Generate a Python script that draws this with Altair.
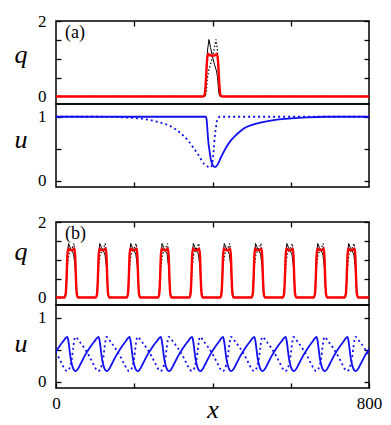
import altair as alt
import pandas as pd

# ---------------- panel (a) : single pulse ----------------
a_q_red_x = [0, 376, 380, 383, 386, 389, 392, 400, 408, 411, 414, 417, 420, 424, 800]
a_q_red_y = [0, 0, 0.05, 0.4, 0.95, 1.13, 1.1, 1.08, 1.1, 1.13, 0.95, 0.4, 0.05, 0, 0]
a_q_solid_x = [0, 381, 384, 387, 391, 395, 400, 405, 410, 413, 416, 419, 800]
a_q_solid_y = [0, 0, 0.5, 1.2, 1.51, 1.3, 1.05, 0.85, 0.68, 0.5, 0.1, 0, 0]
a_q_dot_x = [0, 381, 384, 387, 390, 395, 400, 405, 409, 413, 416, 419, 800]
a_q_dot_y = [0, 0, 0.1, 0.5, 0.68, 0.85, 1.05, 1.3, 1.51, 1.2, 0.5, 0, 0]

a_u_solid_x = [0, 383, 385, 387, 389, 392, 396, 400, 406, 412, 422, 433, 447, 463,
               481, 505, 532, 565, 601, 640, 690, 800]
a_u_solid_y = [1, 1, 0.95, 0.8, 0.63, 0.48, 0.32, 0.25, 0.21, 0.24, 0.37, 0.5, 0.63, 0.73,
               0.82, 0.88, 0.92, 0.955, 0.975, 0.99, 1, 1]
a_u_dot_x = [0, 110, 175, 217, 260, 302, 337, 362, 379, 388, 396, 399, 403, 406, 409, 413, 419, 800]
a_u_dot_y = [1, 1, 0.99, 0.97, 0.92, 0.82, 0.63, 0.42, 0.26, 0.22, 0.21, 0.25, 0.47, 0.7,
             0.84, 0.97, 1, 1]

# ---------------- panel (b) : pulse train ----------------
pulse_centers = [39, 119, 198, 278, 358, 437, 517, 597, 676, 755]
u_centers = [-41, 39, 119, 198, 278, 358, 437, 517, 597, 676, 755, 835]

b_q_red_off = [-17, -14, -12, -10, -8, -4, 0, 4, 8, 10, 12, 14, 17]
b_q_red_val = [0, 0.1, 0.5, 1.1, 1.3, 1.26, 1.25, 1.26, 1.3, 1.1, 0.5, 0.1, 0]
b_q_solid_off = [-16, -13, -10, -7, -3, 1, 6, 10, 13, 16]
b_q_solid_val = [0, 0.3, 1.1, 1.43, 1.33, 1.25, 1.15, 0.8, 0.2, 0]
b_q_dot_off = [-16, -13, -10, -6, -1, 3, 7, 10, 13, 16]
b_q_dot_val = [0, 0.2, 0.8, 1.15, 1.25, 1.33, 1.43, 1.1, 0.3, 0]

b_u_solid_off = [-10, -8, -5, -2, 2, 6, 11, 16, 24, 34, 46, 58]
b_u_solid_val = [0.70, 0.66, 0.53, 0.38, 0.26, 0.19, 0.165, 0.19, 0.28, 0.40, 0.52, 0.62]
b_u_dot_off = [-58, -46, -34, -24, -16, -11, -6, -2, 2, 5, 8, 10]
b_u_dot_val = [0.62, 0.52, 0.40, 0.28, 0.19, 0.165, 0.19, 0.26, 0.38, 0.53, 0.66, 0.70]

x_ticks = [200, 400, 600]
x_labels_shown = [0, 800]
q_ticks = [0, 0.5, 1, 1.5, 2]
q_labels_shown = [0, 2]
u_ticks = [0, 0.5, 1]
u_labels_shown = [0, 1]


def train(centers, offs, vals, edges=True):
    xs, ys = ([0], [0]) if edges else ([], [])
    for c in centers:
        for o, v in zip(offs, vals):
            xs.append(c + o)
            ys.append(v)
    if edges:
        xs.append(800)
        ys.append(0)
    return xs, ys


W, H = 313, 83
FONT = "Liberation Serif"
BLUE = "#1010f0"
XS = alt.Scale(domain=[0, 800], nice=False, zero=False)
QS = alt.Scale(domain=[-0.2, 2], nice=False, zero=False)
US = alt.Scale(domain=[-0.1, 1.2], nice=False, zero=False)
TICK = dict(tickSize=5, tickWidth=1.3, tickColor="black", domain=False, grid=False, offset=-5)


def shown_expr(shown):
    cond = " || ".join(f"datum.value == {v}" for v in shown)
    return f"({cond}) ? format(datum.value, 'd') : ''"


def left_axis(values, shown, title, title_y):
    return alt.Axis(orient="left", values=values, labelExpr=shown_expr(shown),
                    labelFont=FONT, labelFontSize=17, labelColor="black", labelPadding=10,
                    labelOverlap=False, title=title, titleFont=FONT, titleFontStyle="italic",
                    titleFontWeight="normal", titleFontSize=26, titleAngle=0,
                    titleAlign="center", titleBaseline="alphabetic", titleX=-40.5,
                    titleY=title_y, titleColor="black", **TICK)


def right_axis(values):
    return alt.Axis(orient="right", values=values, labels=False, title="", **TICK)


def top_axis():
    return alt.Axis(orient="top", values=x_ticks, labels=False, title="", **TICK)


def bottom_axis(labels):
    if not labels:
        return alt.Axis(orient="bottom", values=x_ticks, labels=False, title="", **TICK)
    return alt.Axis(orient="bottom", values=[0] + x_ticks + [800],
                    labelExpr=shown_expr(x_labels_shown), labelFont=FONT, labelFontSize=17,
                    labelColor="black", labelPadding=7, labelFlush=False, labelOverlap=False,
                    title="x", titleFont=FONT, titleFontStyle="italic", titleFontWeight="normal",
                    titleFontSize=26, titleBaseline="alphabetic", titleY=34.7,
                    titleColor="black", **TICK)


def series(xs, ys, yscale, color, width, dash=None, interp="monotone", xaxis=None, yaxis=None):
    df = pd.DataFrame({"x": xs, "y": ys})
    kw = dict(color=color, strokeWidth=width, interpolate=interp, clip=True)
    if dash:
        kw["strokeDash"] = dash
    return alt.Chart(df).mark_line(**kw).encode(
        x=alt.X("x:Q", scale=XS, axis=xaxis),
        y=alt.Y("y:Q", scale=yscale, axis=yaxis),
    )


def label(txt):
    return alt.Chart(pd.DataFrame({"t": [txt]})).mark_text(
        font=FONT, fontSize=18, align="left", baseline="middle", color="black"
    ).encode(x=alt.value(9), y=alt.value(12), text="t:N")


def panel(layers):
    return alt.layer(*layers).resolve_axis(x="independent", y="independent").properties(
        width=W, height=H)


# panel (a)
qa = panel([
    series(a_q_solid_x, a_q_solid_y, QS, "black", 1, interp="linear",
           xaxis=top_axis(), yaxis=left_axis(q_ticks, q_labels_shown, "q", 41)),
    series(a_q_dot_x, a_q_dot_y, QS, "black", 1.2, dash=[1.5, 2], interp="linear",
           yaxis=right_axis(q_ticks)),
    series(a_q_red_x, a_q_red_y, QS, "#ff0000", 2.4),
    label("(a)"),
])

ua = panel([
    series(a_u_dot_x, a_u_dot_y, US, BLUE, 1.8, dash=[2, 3],
           xaxis=bottom_axis(False), yaxis=left_axis(u_ticks, u_labels_shown, "u", 43)),
    series(a_u_solid_x, a_u_solid_y, US, BLUE, 1.8, yaxis=right_axis(u_ticks)),
])

# panel (b)
bqs = train(pulse_centers, b_q_solid_off, b_q_solid_val)
bqd = train(pulse_centers, b_q_dot_off, b_q_dot_val)
bqr = train(pulse_centers, b_q_red_off, b_q_red_val)
bus = train(u_centers, b_u_solid_off, b_u_solid_val, edges=False)
bud = train(u_centers, b_u_dot_off, b_u_dot_val, edges=False)

qb = panel([
    series(*bqs, QS, "black", 1, interp="linear",
           xaxis=top_axis(), yaxis=left_axis(q_ticks, q_labels_shown, "q", 37)),
    series(*bqd, QS, "black", 1.2, dash=[1.5, 2], interp="linear", yaxis=right_axis(q_ticks)),
    series(*bqr, QS, "#ff0000", 2.4),
    label("(b)"),
])

ub = panel([
    series(*bud, US, BLUE, 1.8, dash=[2, 3],
           xaxis=bottom_axis(True), yaxis=left_axis(u_ticks, u_labels_shown, "u", 46.7)),
    series(*bus, US, BLUE, 1.8, yaxis=right_axis(u_ticks)),
])

top = alt.vconcat(qa, ua, spacing=0, bounds="flush")
bottom = alt.vconcat(qb, ub, spacing=0, bounds="flush")

chart = alt.vconcat(top, bottom, spacing=22).properties(
    padding={"left": 5, "top": 3, "right": 0, "bottom": 2}
).configure_view(stroke="black", strokeWidth=1.5)

chart.save("out.html", embed_options={"renderer": "svg", "actions": False})
